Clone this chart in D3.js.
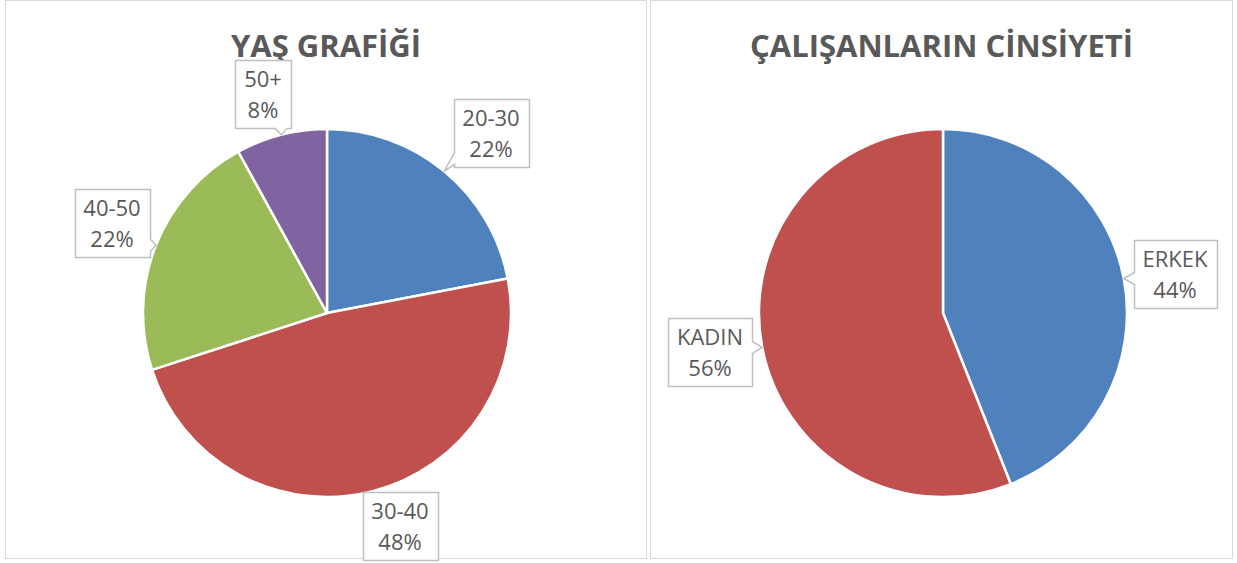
<!DOCTYPE html>
<html>
<head>
<meta charset="utf-8">
<script src="https://cdn.jsdelivr.net/npm/d3@7"></script>
<style>
  body { margin: 0; background: #fff; }
  svg { display: block; font-family: "Open Sans", sans-serif; }
</style>
</head>
<body>
<svg id="chart" width="1237" height="563"></svg>
<script>
// data
const ageCategories = ["20-30", "30-40", "40-50", "50+"];
const ageValues = [22, 48, 22, 8];
const genderCategories = ["ERKEK", "KADIN"];
const genderValues = [44, 56];

const ageColors = ["#4F81BD", "#C0504D", "#9BBB59", "#8064A2"];
const genderColors = ["#4F81BD", "#C0504D"];

// label box centres, in page pixels
const ageLabelPos = [[491, 133], [400, 526], [112, 223], [263, 94]];
const genderLabelPos = [[1175, 274], [710, 352]];

const svg = d3.select("#chart");
const radius = 184;
const textColor = "#595959";

const panels = [
  { x: 5.5, w: 641, title: "YAŞ GRAFİĞİ", cx: 327, cy: 313,
    cats: ageCategories, vals: ageValues, colors: ageColors, labels: ageLabelPos },
  { x: 650.5, w: 582, title: "ÇALIŞANLARIN CİNSİYETİ", cx: 943, cy: 313,
    cats: genderCategories, vals: genderValues, colors: genderColors, labels: genderLabelPos }
];

const pie = d3.pie().sort(null).value(d => d.value);
const arc = d3.arc().innerRadius(0).outerRadius(radius);

function calloutPath(x0, y0, x1, y1, tx, ty) {
  // box with a small pointer toward (tx, ty) when the tip lies outside
  const dl = x0 - tx, dr = tx - x1, dt = y0 - ty, db = ty - y1;
  const half = 6;
  const cl = (v, a, b) => Math.max(a, Math.min(b, v));
  if (Math.max(dl, dr, dt, db) < 4) {
    return `M${x0},${y0}H${x1}V${y1}H${x0}Z`;
  }
  if (dl > 2) {
    const c = cl(ty, y0 + half + 3, y1 - half - 3);
    return `M${x0},${y0}H${x1}V${y1}H${x0}V${c + half}L${tx},${ty}L${x0},${c - half}Z`;
  }
  if (dr > 2) {
    const c = cl(ty, y0 + half + 3, y1 - half - 3);
    return `M${x0},${y0}H${x1}V${c - half}L${tx},${ty}L${x1},${c + half}V${y1}H${x0}Z`;
  }
  if (dt > db) {
    const c = cl(tx, x0 + half + 3, x1 - half - 3);
    return `M${x0},${y0}H${c - half}L${tx},${ty}L${c + half},${y0}H${x1}V${y1}H${x0}Z`;
  }
  const c = cl(tx, x0 + half + 3, x1 - half - 3);
  return `M${x0},${y0}H${x1}V${y1}H${c + half}L${tx},${ty}L${c - half},${y1}H${x0}Z`;
}

panels.forEach(p => {
  svg.append("rect")
    .attr("x", p.x).attr("y", 0.5)
    .attr("width", p.w).attr("height", 558)
    .attr("fill", "#fff")
    .attr("stroke", "#D9D9D9")
    .attr("stroke-width", 1);

  svg.append("text")
    .attr("x", p.x + p.w / 2)
    .attr("y", 57)
    .attr("text-anchor", "middle")
    .attr("font-size", 31)
    .attr("font-weight", "bold")
    .attr("fill", textColor)
    .text(p.title);

  const data = p.cats.map((c, i) => ({ cat: c, value: p.vals[i], color: p.colors[i], pos: p.labels[i] }));
  const total = d3.sum(p.vals);
  const arcs = pie(data);

  const g = svg.append("g").attr("transform", `translate(${p.cx},${p.cy})`);
  g.selectAll("path")
    .data(arcs)
    .enter()
    .append("path")
    .attr("d", arc)
    .attr("fill", d => d.data.color)
    .attr("stroke", "#fff")
    .attr("stroke-width", 2.5)
    .attr("stroke-linejoin", "round");

  arcs.forEach(a => {
    const mid = (a.startAngle + a.endAngle) / 2;
    const tx = p.cx + radius * Math.sin(mid);
    const ty = p.cy - radius * Math.cos(mid);
    const pct = Math.round(a.data.value / total * 100) + "%";

    const lg = svg.append("g");
    const box = lg.append("path");
    const t1 = lg.append("text")
      .attr("x", a.data.pos[0]).attr("y", a.data.pos[1] - 7)
      .attr("text-anchor", "middle")
      .attr("font-size", 22)
      .attr("fill", textColor)
      .text(a.data.cat);
    const t2 = lg.append("text")
      .attr("x", a.data.pos[0]).attr("y", a.data.pos[1] + 24)
      .attr("text-anchor", "middle")
      .attr("font-size", 22)
      .attr("fill", textColor)
      .text(pct);

    const tw = Math.max(t1.node().getComputedTextLength(), t2.node().getComputedTextLength());
    const bw = Math.round(tw + 18);
    const x0 = Math.round(a.data.pos[0] - bw / 2) + 0.5;
    const x1 = x0 + bw;
    const y0 = a.data.pos[1] - 34 + 0.5;
    const y1 = y0 + 68;
    box.attr("d", calloutPath(x0, y0, x1, y1, tx, ty))
      .attr("fill", "#fff")
      .attr("stroke", "#BFBFBF")
      .attr("stroke-width", 1.5);
  });
});
</script>
</body>
</html>
